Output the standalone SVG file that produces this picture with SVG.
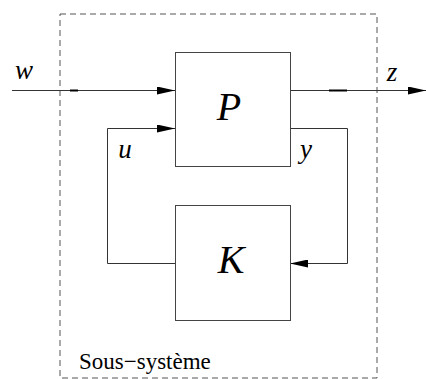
<svg xmlns="http://www.w3.org/2000/svg" width="426" height="379" viewBox="0 0 426 379">
<style>
.box{fill:#fff;stroke:#444;stroke-width:1}
.ln{fill:none;stroke:#333;stroke-width:1}
.dash{fill:none;stroke:#555;stroke-width:1;stroke-dasharray:6,4}
.math{font-family:'Liberation Serif','Times New Roman',serif;font-style:italic;fill:#000}
</style>
<defs>
<marker id="ar" markerWidth="18" markerHeight="8" refX="18" refY="4" orient="auto" markerUnits="userSpaceOnUse">
<path d="M0,0 L18,4 L0,8 Z" fill="#000"/>
</marker>
</defs>
<g id="subsystem">
<rect class="dash" x="60" y="14" width="317" height="364"/>
<text x="79" y="369" font-family="'Liberation Serif','Times New Roman',serif" font-size="23" fill="#000">Sous−système</text>
</g>
<g id="connectors">
<path class="ln" d="M12,90.5 H175" marker-end="url(#ar)"/>
<line x1="70" y1="90.5" x2="78" y2="90.5" stroke="#000" stroke-width="2"/>
<path class="ln" d="M290,90.5 H426" marker-end="url(#ar)"/>
<line x1="329" y1="90.5" x2="347" y2="90.5" stroke="#000" stroke-width="2"/>
<path class="ln" d="M175,263.5 H107.5 V128.5 H175" marker-end="url(#ar)"/>
<path class="ln" d="M290,128.5 H347.5 V263.5 H290" marker-end="url(#ar)"/>
<g class="math" font-size="27">
<text x="24" y="79" text-anchor="middle">w</text>
<text x="392" y="81" text-anchor="middle">z</text>
<text x="125" y="158" text-anchor="middle">u</text>
<text x="306" y="158" text-anchor="middle">y</text>
</g>
</g>
<g id="P">
<rect class="box" x="175.5" y="52.5" width="115" height="114"/>
<text class="math" x="229" y="120" font-size="40" text-anchor="middle">P</text>
</g>
<g id="K">
<rect class="box" x="175.5" y="205.5" width="115" height="115"/>
<text class="math" x="231" y="273" font-size="40" text-anchor="middle">K</text>
</g>
</svg>
